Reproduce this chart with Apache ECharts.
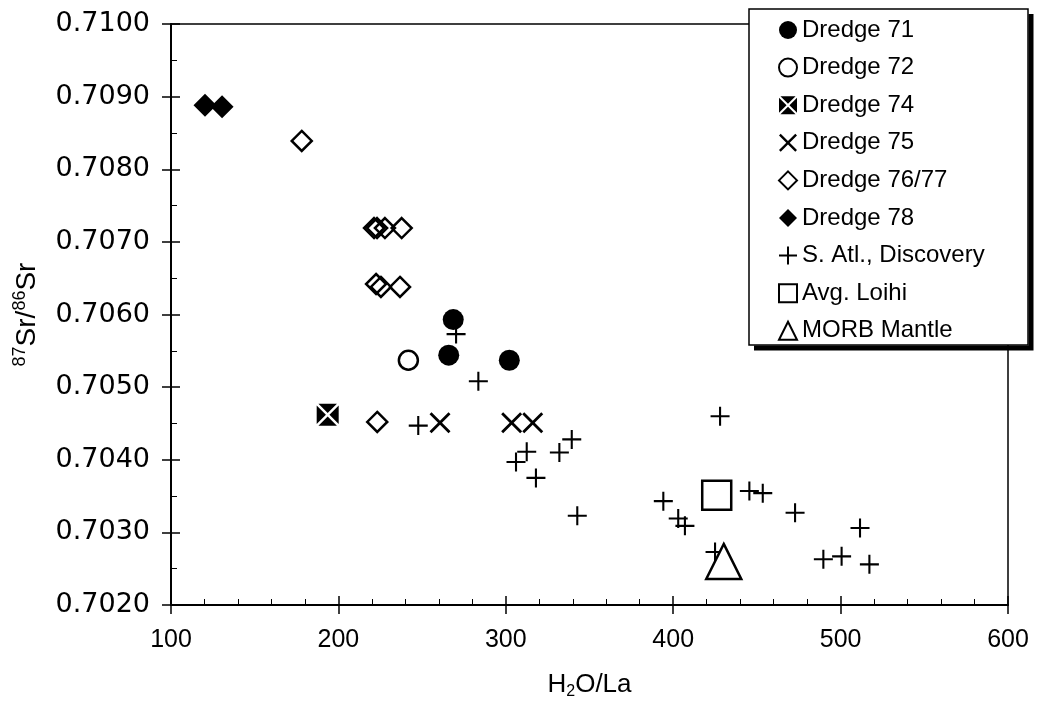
<!DOCTYPE html>
<html>
<head>
<meta charset="utf-8">
<script src="https://cdn.jsdelivr.net/npm/echarts@6/dist/echarts.min.js"></script>
<style>
html,body{margin:0;padding:0;background:#fff;}
#chart{width:1039px;height:709px;}
</style>
</head>
<body>
<div id="chart"></div>
<script>
// ---- data (H2O/La, 87Sr/86Sr) ----
const seriesNames = ['Dredge 71','Dredge 72','Dredge 74','Dredge 75','Dredge 76/77','Dredge 78','S. Atl., Discovery','Avg. Loihi','MORB Mantle'];
const dredge71 = [[268.6,0.70593],[265.9,0.70544],[302.1,0.70537]];
const dredge72 = [[241.8,0.70537]];
const dredge74 = [[193.6,0.70462]];
const dredge75 = [[260.7,0.70451],[303.5,0.70451],[316.1,0.70451]];
const dredge7677 = [[178.1,0.70839],[221.3,0.70719],[223.1,0.70719],[227.8,0.70719],[237.8,0.70719],[222.5,0.70642],[225.4,0.70638],[236.8,0.70638],[223.2,0.70452]];
const dredge78 = [[120.3,0.70888],[130.5,0.70886]];
const southAtlantic = [[270.3,0.70573],[283.6,0.70508],[247.7,0.70447],[428.0,0.70460],[339.4,0.70428],[332.0,0.70410],[312.5,0.70411],[306.1,0.70397],[318.0,0.70375],[342.7,0.70323],[394.1,0.70343],[403.0,0.70319],[407.0,0.70309],[445.5,0.70357],[453.5,0.70354],[472.8,0.70327],[511.6,0.70306],[489.7,0.70263],[500.6,0.70267],[517.2,0.70256],[425.0,0.70273]];
const avgLoihi = [[426.0,0.70351]];
const morbMantle = [[430.2,0.70260]];
const xTicks = {min:100, max:600, interval:100};
const yTicks = {min:0.702, max:0.710, interval:0.001};

// ---- symbols ----
const plusPath = 'path://M8.9,0H11.1V8.9H20V11.1H11.1V20H8.9V11.1H0V8.9H8.9Z';
const a = 1.9;
const xPath = 'path://M0,'+a+'L'+a+',0L10,'+(10-a)+'L'+(20-a)+',0L20,'+a+'L'+(10+a)+',10L20,'+(20-a)+'L'+(20-a)+',20L10,'+(10+a)+'L'+a+',20L0,'+(20-a)+'L'+(10-a)+',10Z';
const d = 1.6;
const boxXPath = 'path://M'+d+',0L'+(20-d)+',0L10,'+(10-d)+'Z' +
  'M'+d+',20L10,'+(10+d)+'L'+(20-d)+',20Z' +
  'M0,'+d+'L'+(10-d)+',10L0,'+(20-d)+'Z' +
  'M20,'+d+'L20,'+(20-d)+'L'+(10+d)+',10Z';

const chart = echarts.init(document.getElementById('chart'), null, {renderer:'canvas'});
const FONT = 'Liberation Sans';
const black = '#000';
const clear = 'rgba(0,0,0,0)';

const option = {
  animation:false,
  backgroundColor:'#fff',
  grid:{left:171, right:31, top:24, bottom:104, show:true, borderColor:black, borderWidth:1.5, backgroundColor:'transparent'},
  xAxis:[{
    type:'value', min:xTicks.min, max:xTicks.max, interval:xTicks.interval,
    name:'{m|H}{s|2}{m|O/La}', nameLocation:'middle', nameGap:65,
    nameTextStyle:{rich:{m:{fontFamily:FONT,fontSize:26,color:black,lineHeight:30},s:{fontFamily:FONT,fontSize:16,color:black,lineHeight:30,verticalAlign:'bottom'}}},
    axisLine:{show:true,lineStyle:{color:black,width:2}},
    axisTick:{show:true,inside:true,length:9,lineStyle:{color:black,width:1.5}},
    minorTick:{show:true,splitNumber:5,length:6,lineStyle:{color:black,width:1}},
    axisLabel:{fontFamily:FONT,fontSize:25,color:black,margin:23},
    splitLine:{show:false}
  },{
    type:'value', min:xTicks.min, max:xTicks.max, interval:xTicks.interval, position:'bottom',
    axisLine:{show:false}, axisLabel:{show:false}, splitLine:{show:false},
    axisTick:{show:true,inside:false,length:9,lineStyle:{color:black,width:1.5}}
  }],
  yAxis:[{
    type:'value', min:yTicks.min, max:yTicks.max, interval:yTicks.interval,
    name:'{s|87}{m|Sr/}{s|86}{m|Sr}', nameLocation:'middle', nameRotate:90, nameGap:128,
    nameTextStyle:{rich:{m:{fontFamily:FONT,fontSize:28,color:black,lineHeight:32},s:{fontFamily:FONT,fontSize:18,color:black,lineHeight:18,verticalAlign:'top'}}},
    axisLine:{show:true,lineStyle:{color:black,width:2}},
    axisTick:{show:true,inside:true,length:9,lineStyle:{color:black,width:1.5}},
    minorTick:{show:true,splitNumber:2,length:6,lineStyle:{color:black,width:1}},
    axisLabel:{fontFamily:'DejaVu Sans',fontSize:27,color:black,margin:21,formatter:v=>v.toFixed(4)},
    splitLine:{show:false}
  },{
    type:'value', min:yTicks.min, max:yTicks.max, interval:yTicks.interval, position:'left',
    axisLine:{show:false}, axisLabel:{show:false}, splitLine:{show:false},
    axisTick:{show:true,inside:false,length:9,lineStyle:{color:black,width:1.5}}
  }],
  legend:{
    orient:'vertical', left:749, top:10, z:30,
    data:seriesNames,
    itemWidth:18, itemHeight:18, itemGap:13.6,
    padding:[8,32,3,29],
    backgroundColor:'transparent', borderWidth:0,
    textStyle:{fontFamily:FONT,fontSize:24,color:black,lineHeight:24},
    selectedMode:false
  },
  graphic:[
    {type:'rect', id:'legendBox', z:21, silent:true, shape:{x:749, y:9, width:279, height:336}, style:{fill:'#fff', stroke:black, lineWidth:1.5}},
    {type:'polyline', id:'legendShadow', z:50, silent:true, shape:{points:[[1031,14],[1031,348],[754,348]]}, style:{fill:null, stroke:black, lineWidth:5, lineJoin:'miter', lineCap:'butt'}}
  ],
  series:[
    {name:seriesNames[6], type:'scatter', data:southAtlantic, symbol:plusPath, symbolSize:19, itemStyle:{color:black,opacity:1}, z:2},
    {name:seriesNames[0], type:'scatter', data:dredge71, symbol:'circle', symbolSize:21, itemStyle:{color:black,opacity:1}, z:3},
    {name:seriesNames[1], type:'scatter', data:dredge72, symbol:'circle', symbolSize:19, itemStyle:{color:'#fff',borderColor:black,borderWidth:2.5,opacity:1}, z:3},
    {name:seriesNames[2], type:'scatter', data:dredge74, symbol:boxXPath, symbolSize:22, itemStyle:{color:black,opacity:1}, z:3},
    {name:seriesNames[3], type:'scatter', data:dredge75, symbol:xPath, symbolSize:21, itemStyle:{color:black,opacity:1}, z:3},
    {name:seriesNames[4], type:'scatter', data:dredge7677, symbol:'diamond', symbolSize:20, itemStyle:{color:clear,borderColor:black,borderWidth:2.5,opacity:1}, z:3},
    {name:seriesNames[5], type:'scatter', data:dredge78, symbol:'diamond', symbolSize:23, itemStyle:{color:black,opacity:1}, z:3},
    {name:seriesNames[7], type:'scatter', data:avgLoihi, symbol:'rect', symbolSize:29, itemStyle:{color:'#fff',borderColor:black,borderWidth:2.5,opacity:1}, z:4},
    {name:seriesNames[8], type:'scatter', data:morbMantle, symbol:'triangle', symbolSize:35, itemStyle:{color:'#fff',borderColor:black,borderWidth:2.5,opacity:1}, z:4}
  ]
};
chart.setOption(option);
</script>
</body>
</html>
